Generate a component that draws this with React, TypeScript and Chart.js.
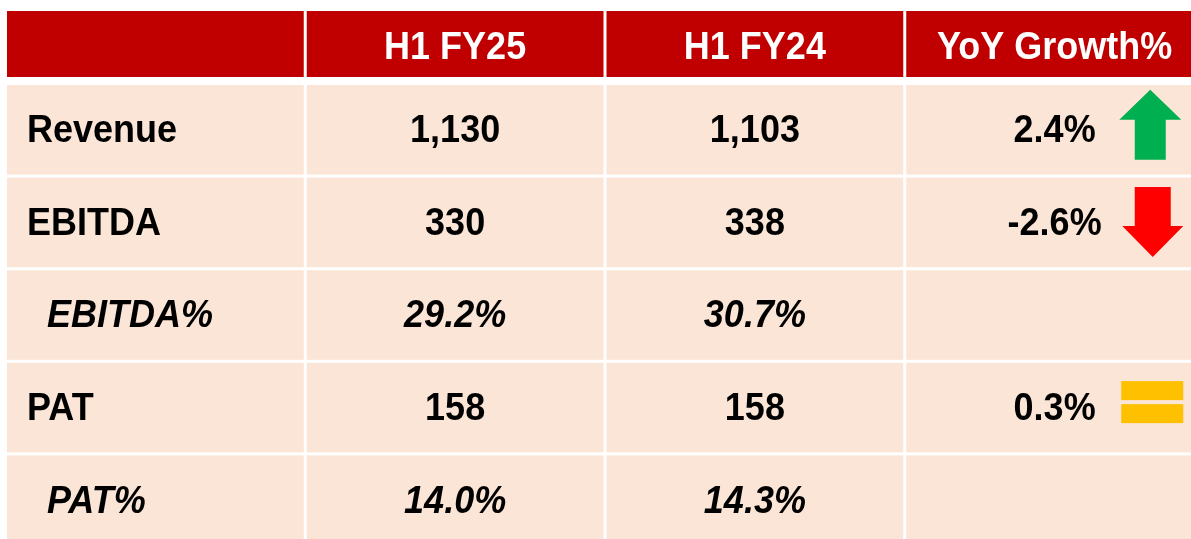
import React, { useEffect, useRef } from "react";
import { Chart, registerables } from "chart.js";

Chart.register(...registerables);

// ---- data ----
const COLUMNS = ["", "H1 FY25", "H1 FY24", "YoY Growth%"];
const ROWS = ["Revenue", "EBITDA", "EBITDA%", "PAT", "PAT%"];
const H1_FY25 = [1130, 330, 29.2, 158, 14.0];
const H1_FY24 = [1103, 338, 30.7, 158, 14.3];
const YOY_GROWTH = [2.4, -2.6, null, 0.3, null];
const IS_RATIO_ROW = [false, false, true, false, true];
const TREND = ["up", "down", null, "flat", null];

const FONT = '"Liberation Sans", Arial, Helvetica, sans-serif';
const RED = "#C00000";
const PEACH = "#FBE5D6";

function fmtValue(v: number, ratio: boolean): string {
  if (ratio) return v.toFixed(1) + "%";
  return v.toLocaleString("en-US");
}

function drawText(
  ctx: CanvasRenderingContext2D,
  text: string,
  x: number,
  y: number,
  align: CanvasTextAlign,
  italic: boolean,
  color: string
) {
  ctx.save();
  ctx.translate(x, y);
  ctx.scale(1, 1.08);
  ctx.font = `${italic ? "italic " : ""}bold 36px ${FONT}`;
  ctx.fillStyle = color;
  ctx.textAlign = align;
  ctx.textBaseline = "alphabetic";
  ctx.fillText(text, 0, 0);
  ctx.restore();
}

const tablePlugin = {
  id: "tablePlugin",
  afterDraw(chart: any) {
    const ctx: CanvasRenderingContext2D = chart.ctx;
    const xs = chart.scales.x;
    const ys = chart.scales.y;
    const area = chart.chartArea;
    const gap = 3;
    const colPitch = xs.width / COLUMNS.length;
    const rowPitch = ys.height / ROWS.length;
    const capOffset = 12.3;

    // header
    const hTop = area.top - 74;
    const hH = 66;
    COLUMNS.forEach((c, i) => {
      const cx = xs.getPixelForValue(i);
      const left = cx - colPitch / 2;
      ctx.fillStyle = RED;
      ctx.fillRect(left, hTop, colPitch - gap, hH);
      if (c) drawText(ctx, c, cx - gap / 2, hTop + hH / 2 + capOffset + 2.5, "center", false, "#FFFFFF");
    });

    // body
    ROWS.forEach((r, j) => {
      const cy = ys.getPixelForValue(j);
      const top = cy - rowPitch / 2;
      const cellH = rowPitch - gap;
      const midY = top + cellH / 2;
      const base = midY + capOffset;
      const italic = IS_RATIO_ROW[j];
      for (let i = 0; i < COLUMNS.length; i++) {
        const cx = xs.getPixelForValue(i);
        const left = cx - colPitch / 2;
        ctx.fillStyle = PEACH;
        ctx.fillRect(left, top, colPitch - gap, cellH);
      }
      // label
      const lx = xs.getPixelForValue(0) - colPitch / 2;
      drawText(ctx, r, lx + (italic ? 40 : 20), base, "left", italic, "#000000");
      // values
      drawText(ctx, fmtValue(H1_FY25[j], italic), xs.getPixelForValue(1) - gap / 2, base, "center", italic, "#000000");
      drawText(ctx, fmtValue(H1_FY24[j], italic), xs.getPixelForValue(2) - gap / 2, base, "center", italic, "#000000");
      const g = YOY_GROWTH[j];
      const c4 = xs.getPixelForValue(3);
      const c4Left = c4 - colPitch / 2;
      if (g !== null && g !== undefined) {
        drawText(ctx, g.toFixed(1) + "%", c4 - gap / 2, base, "center", false, "#000000");
      }
      const t = TREND[j];
      if (t === "up") {
        const ax = c4Left + 244;
        ctx.fillStyle = "#00B050";
        ctx.beginPath();
        ctx.moveTo(ax, midY - 40);
        ctx.lineTo(ax + 31, midY - 10);
        ctx.lineTo(ax + 15.5, midY - 10);
        ctx.lineTo(ax + 15.5, midY + 30);
        ctx.lineTo(ax - 15.5, midY + 30);
        ctx.lineTo(ax - 15.5, midY - 10);
        ctx.lineTo(ax - 31, midY - 10);
        ctx.closePath();
        ctx.fill();
      } else if (t === "down") {
        const ax = c4Left + 246.5;
        ctx.fillStyle = "#FF0000";
        ctx.beginPath();
        ctx.moveTo(ax, midY + 34.5);
        ctx.lineTo(ax + 30.5, midY + 3.5);
        ctx.lineTo(ax + 18, midY + 3.5);
        ctx.lineTo(ax + 18, midY - 35.5);
        ctx.lineTo(ax - 18, midY - 35.5);
        ctx.lineTo(ax - 18, midY + 3.5);
        ctx.lineTo(ax - 30.5, midY + 3.5);
        ctx.closePath();
        ctx.fill();
      } else if (t === "flat") {
        ctx.fillStyle = "#FFC000";
        ctx.fillRect(c4Left + 215, midY - 26.5, 62, 19);
        ctx.fillRect(c4Left + 215, midY - 3.5, 62, 19);
      }
    });
  },
};

export default function App() {
  const ref = useRef<HTMLCanvasElement | null>(null);
  useEffect(() => {
    if (!ref.current) return;
    const chart = new Chart(ref.current, {
      type: "bar",
      data: { labels: COLUMNS, datasets: [] },
      options: {
        responsive: false,
        animation: false,
        events: [],
        layout: { padding: { top: 77, left: 0, right: 0, bottom: 0 } },
        plugins: { legend: { display: false }, tooltip: { enabled: false } },
        scales: {
          x: { type: "category", offset: true, display: false },
          y: { type: "category", labels: ROWS, offset: true, display: false },
        },
      },
      plugins: [tablePlugin],
    });
    return () => chart.destroy();
  }, []);
  return (
    <div
      style={{
        position: "fixed",
        left: 7,
        top: 8,
        width: 1184,
        height: 531,
        overflow: "hidden",
      }}
    >
      <canvas ref={ref} width={1199} height={540} style={{ display: "block" }} />
    </div>
  );
}
